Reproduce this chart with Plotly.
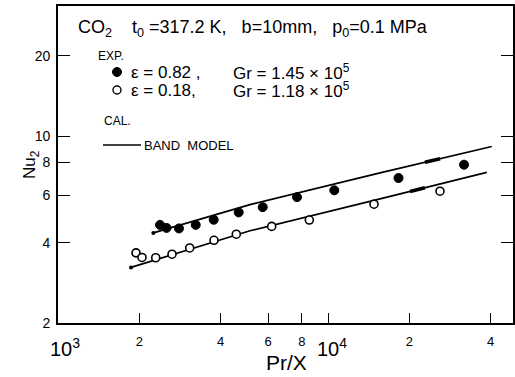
import numpy as np
import plotly.graph_objects as go

# ---- data ----
exp_high_x = [2387, 2523, 2806, 3236, 3773, 4669, 5730, 7677, 10551, 18240, 31890]
exp_high_y = [4.66, 4.54, 4.52, 4.66, 4.87, 5.19, 5.43, 5.92, 6.28, 6.98, 7.83]

exp_low_x = [1945, 2047, 2301, 2644, 3074, 3782, 4574, 6186, 8526, 14800, 25980]
exp_low_y = [3.66, 3.52, 3.51, 3.62, 3.82, 4.08, 4.30, 4.60, 4.86, 5.57, 6.23]

band_high_x = [2254, 5141, 15580, 40400]
band_high_y = [4.35, 5.55, 7.30, 9.16]

band_low_x = [1864, 5141, 15580, 38710]
band_low_y = [3.23, 4.43, 5.83, 7.33]

arrow_high_x = [22850, 26000]
arrow_low_x = [20120, 22850]

x_tickvals = [1000, 2000, 4000, 6000, 8000, 10000, 20000, 40000]
x_ticktext = ["", "2", "4", "6", "8", "", "2", "4"]
x_decades = [1000, 10000]
x_decade_text = ["10<sup>3</sup>", "10<sup>4</sup>"]
y_tickvals = [2, 4, 6, 8, 10, 20]
y_ticktext = ["2", "4", "6", "8", "10", "20"]

legend_eps = ["ε = 0.82 ,", "ε = 0.18,"]
legend_gr = ["Gr = 1.45 × 10<sup>5</sup>", "Gr = 1.18 × 10<sup>5</sup>"]

# ---- layout geometry ----
W, H = 515, 377
L, R, T, B = 58, 513, 6, 323


def px(x):
    return (x - L) / (R - L)


def py(y):
    return (B - y) / (B - T)


def on_line(xs, lx, ly):
    return list(10 ** np.interp(np.log10(xs), np.log10(lx), np.log10(ly)))


fig = go.Figure()

line_style = dict(color="black", width=1.7)
fig.add_trace(go.Scatter(x=band_high_x, y=band_high_y, mode="lines", line=line_style, showlegend=False))
fig.add_trace(go.Scatter(x=band_low_x, y=band_low_y, mode="lines", line=line_style, showlegend=False))

fig.add_trace(go.Scatter(x=[band_high_x[0], band_low_x[0]], y=[band_high_y[0], band_low_y[0]],
                         mode="markers", marker=dict(color="black", size=4), showlegend=False))

fig.add_trace(go.Scatter(x=arrow_high_x, y=on_line(arrow_high_x, band_high_x, band_high_y),
                         mode="lines", line=dict(color="black", width=3.5), showlegend=False))
fig.add_trace(go.Scatter(x=arrow_low_x, y=on_line(arrow_low_x, band_low_x, band_low_y),
                         mode="lines", line=dict(color="black", width=3.5), showlegend=False))

fig.add_trace(go.Scatter(x=exp_high_x, y=exp_high_y, mode="markers",
                         marker=dict(color="black", size=9, line=dict(color="black", width=1)),
                         showlegend=False))
fig.add_trace(go.Scatter(x=exp_low_x, y=exp_low_y, mode="markers",
                         marker=dict(color="white", size=8, line=dict(color="black", width=1.6)),
                         showlegend=False))

font_family = "Liberation Sans, Arial, sans-serif"

annotations = [
    dict(x=px(76), y=py(28),
         text="CO<sub>2</sub>    t<sub>0</sub> =317.2 K,   b=10mm,   p<sub>0</sub>=0.1 MPa",
         font=dict(size=18)),
    dict(x=px(96), y=py(56), text="EXP.", font=dict(size=12)),
    dict(x=px(102), y=py(121), text="CAL.", font=dict(size=12)),
    dict(x=px(142), y=py(145), text="BAND  MODEL", font=dict(size=13)),
]
for i, yy in enumerate([72, 90]):
    annotations.append(dict(x=px(129), y=py(yy), text=legend_eps[i], font=dict(size=17)))
    annotations.append(dict(x=px(231), y=py(yy), text=legend_gr[i], font=dict(size=17)))
for a in annotations:
    a.update(xref="paper", yref="paper", xanchor="left", yanchor="middle", showarrow=False)

annotations += [
    dict(x=px(31), y=py(165), xref="paper", yref="paper", text="Nu<sub>2</sub>", textangle=-90,
         showarrow=False, font=dict(size=17), xanchor="center", yanchor="middle"),
    dict(x=px(286), y=py(376), xref="paper", yref="paper", text="Pr/X",
         showarrow=False, font=dict(size=21), xanchor="center", yanchor="bottom"),
]
for xv, txt, shift in zip(x_decades, x_decade_text, [7, 4]):
    annotations.append(dict(x=np.log10(xv), y=py(347), xref="x", yref="paper", text=txt,
                            showarrow=False, font=dict(size=20), xanchor="center",
                            yanchor="middle", xshift=shift))

shapes = [
    dict(type="circle", xref="paper", yref="paper", xsizemode="pixel", ysizemode="pixel",
         xanchor=px(117), yanchor=py(72), x0=-4.5, x1=4.5, y0=-4.5, y1=4.5,
         fillcolor="black", line=dict(color="black", width=1)),
    dict(type="circle", xref="paper", yref="paper", xsizemode="pixel", ysizemode="pixel",
         xanchor=px(117), yanchor=py(90), x0=-4, x1=4, y0=-4, y1=4,
         fillcolor="white", line=dict(color="black", width=1.4)),
    dict(type="line", xref="paper", yref="paper", x0=px(103), x1=px(141), y0=py(145), y1=py(145),
         line=dict(color="black", width=1.4)),
]

fig.update_layout(
    width=W, height=H,
    margin=dict(l=L, r=W - R, t=T, b=H - B, autoexpand=False),
    paper_bgcolor="white", plot_bgcolor="white",
    font=dict(family=font_family, color="black"),
    annotations=annotations,
    shapes=shapes,
    showlegend=False,
)

fig.update_xaxes(type="log", range=[3, 4.685], tickvals=x_tickvals, ticktext=x_ticktext,
                 ticks="inside", ticklen=10, tickwidth=1.4, tickcolor="black",
                 showline=True, linewidth=1.6, linecolor="black", mirror=True,
                 showgrid=False, zeroline=False, tickfont=dict(size=13),
                 automargin=False, ticklabelstandoff=6)
fig.update_yaxes(type="log", range=[np.log10(2), 1.488], tickvals=y_tickvals, ticktext=y_ticktext,
                 ticks="inside", ticklen=12, tickwidth=1.4, tickcolor="black",
                 showline=True, linewidth=1.6, linecolor="black", mirror="ticks",
                 showgrid=False, zeroline=False, tickfont=dict(size=14),
                 automargin=False, ticklabelstandoff=3)

fig.write_html("out.html", config={"displayModeBar": False},
               post_script="document.body.style.margin='0';document.body.style.overflow='hidden';")
